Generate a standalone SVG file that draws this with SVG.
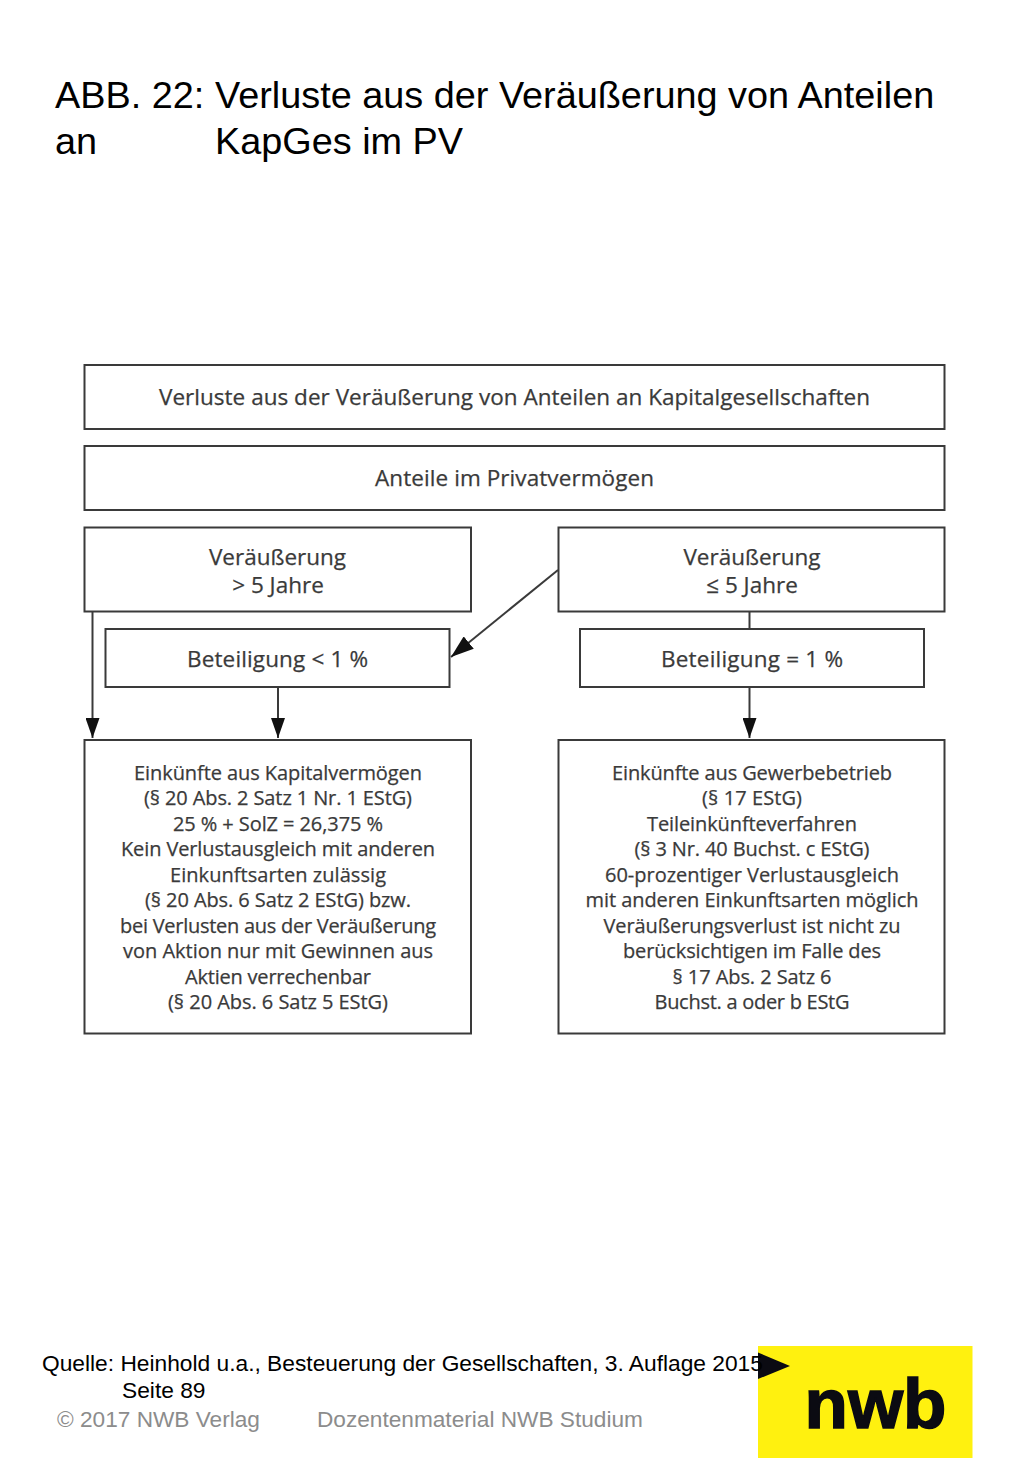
<svg xmlns="http://www.w3.org/2000/svg" width="1024" height="1479" viewBox="0 0 1024 1479">
<style>
.box{fill:#fff;stroke:#3a3a3a;stroke-width:2}
.t{font-family:"Open Sans","Noto Sans",sans-serif;fill:#3a3a3a;text-anchor:middle;stroke:#3a3a3a;stroke-width:.25}
.b{font-size:22.5px}
.s{font-size:20px}
.h{font-family:"Liberation Sans",Arial,sans-serif;fill:#000}
.title{font-size:37.85px}
.src{font-size:22.75px}
.foot{font-family:"Liberation Sans",Arial,sans-serif;fill:#8c8c8c;font-size:22.65px}
.con{fill:none;stroke:#3a3a3a;stroke-width:2}
</style>
<defs>
<marker id="arrow" viewBox="0 0 20 14" refX="20" refY="7" markerWidth="20" markerHeight="14" markerUnits="userSpaceOnUse" orient="auto"><path d="M0 0L20 7L0 14Z" fill="#111"/></marker>
<marker id="arrow-large" viewBox="0 0 20 14" refX="20" refY="7" markerWidth="23" markerHeight="16" markerUnits="userSpaceOnUse" orient="auto"><path d="M0 0L20 7L0 14Z" fill="#111"/></marker>
</defs>
<rect width="1024" height="1479" fill="#fff"/>
<g id="title">
<text class="h title" x="55" y="108">ABB. 22:</text>
<text class="h title" x="215" y="108">Verluste aus der Veräußerung von Anteilen</text>
<text class="h title" x="55" y="154">an</text>
<text class="h title" x="215" y="154">KapGes im PV</text>
</g>
<g id="connectors">
<path class="con" d="M92.500 612V738" marker-end="url(#arrow)"/>
<path class="con" d="M278 688V738" marker-end="url(#arrow)"/>
<path class="con" d="M558 570L451 657" marker-end="url(#arrow-large)"/>
<path class="con" d="M749.500 612V629"/>
<path class="con" d="M749.500 688V738" marker-end="url(#arrow)"/>
</g>
<g id="node-top"><rect class="box" x="84.500" y="365" width="860" height="64"/>
<text class="t b" x="514.500" y="405" textLength="711">Verluste aus der Veräußerung von Anteilen an Kapitalgesellschaften</text></g>
<g id="node-pv"><rect class="box" x="84.500" y="446" width="860" height="64"/>
<text class="t b" x="514.500" y="486" textLength="279">Anteile im Privatvermögen</text></g>
<g id="node-gt5"><rect class="box" x="84.500" y="527.500" width="386.500" height="84"/>
<text class="t b" x="277.500" y="565">Veräußerung</text><text class="t b" x="278" y="593">&gt; 5 Jahre</text></g>
<g id="node-le5"><rect class="box" x="558.500" y="527.500" width="386" height="84"/>
<text class="t b" x="752" y="565">Veräußerung</text><text class="t b" x="752" y="593">≤ 5 Jahre</text></g>
<g id="node-lt1"><rect class="box" x="105.500" y="629" width="344" height="58"/>
<text class="t b" x="277.500" y="667" textLength="181">Beteiligung &lt; 1 %</text></g>
<g id="node-eq1"><rect class="box" x="580" y="629" width="344" height="58"/>
<text class="t b" x="752" y="667" textLength="182">Beteiligung = 1 %</text></g>
<g id="node-kap"><rect class="box" x="84.500" y="740" width="386.500" height="293.500"/>
<text class="t s" x="278" y="780" textLength="288">Einkünfte aus Kapitalvermögen</text>
<text class="t s" x="278" y="805" textLength="268">(§ 20 Abs. 2 Satz 1 Nr. 1 EStG)</text>
<text class="t s" x="278" y="831" textLength="210">25 % + SolZ = 26,375 %</text>
<text class="t s" x="278" y="856" textLength="314">Kein Verlustausgleich mit anderen</text>
<text class="t s" x="278" y="882" textLength="216">Einkunftsarten zulässig</text>
<text class="t s" x="278" y="907" textLength="266">(§ 20 Abs. 6 Satz 2 EStG) bzw.</text>
<text class="t s" x="278" y="933" textLength="316">bei Verlusten aus der Veräußerung</text>
<text class="t s" x="278" y="958" textLength="310">von Aktion nur mit Gewinnen aus</text>
<text class="t s" x="278" y="984" textLength="186">Aktien verrechenbar</text>
<text class="t s" x="278" y="1009" textLength="220">(§ 20 Abs. 6 Satz 5 EStG)</text></g>
<g id="node-gew"><rect class="box" x="558.500" y="740" width="386" height="293.500"/>
<text class="t s" x="752" y="780" textLength="280">Einkünfte aus Gewerbebetrieb</text>
<text class="t s" x="752" y="805" textLength="100">(§ 17 EStG)</text>
<text class="t s" x="752" y="831" textLength="210">Teileinkünfteverfahren</text>
<text class="t s" x="752" y="856" textLength="235">(§ 3 Nr. 40 Buchst. c EStG)</text>
<text class="t s" x="752" y="882" textLength="294">60-prozentiger Verlustausgleich</text>
<text class="t s" x="752" y="907" textLength="333">mit anderen Einkunftsarten möglich</text>
<text class="t s" x="752" y="933" textLength="297">Veräußerungsverlust ist nicht zu</text>
<text class="t s" x="752" y="958" textLength="258">berücksichtigen im Falle des</text>
<text class="t s" x="752" y="984" textLength="159">§ 17 Abs. 2 Satz 6</text>
<text class="t s" x="752" y="1009" textLength="195">Buchst. a oder b EStG</text></g>
<g id="logo">
<rect x="758" y="1346" width="214.500" height="112" fill="#fff10f"/>
<path d="M758 1352.500L790 1366L758 1379Z" fill="#0b0b12"/>
<text x="875.500" y="1428" text-anchor="middle" font-family="'Liberation Sans',Arial,sans-serif" font-weight="700" font-size="71" fill="#0b0b12" stroke="#0b0b12" stroke-width="1.500">nwb</text>
</g>
<g id="source">
<text class="h src" x="42" y="1370.500">Quelle: Heinhold u.a., Besteuerung der Gesellschaften, 3. Auflage 2015</text>
<text class="h src" x="122" y="1397.500">Seite 89</text>
<text class="foot" x="57" y="1427">© 2017 NWB Verlag</text>
<text class="foot" x="317" y="1427">Dozentenmaterial NWB Studium</text>
</g>
</svg>
